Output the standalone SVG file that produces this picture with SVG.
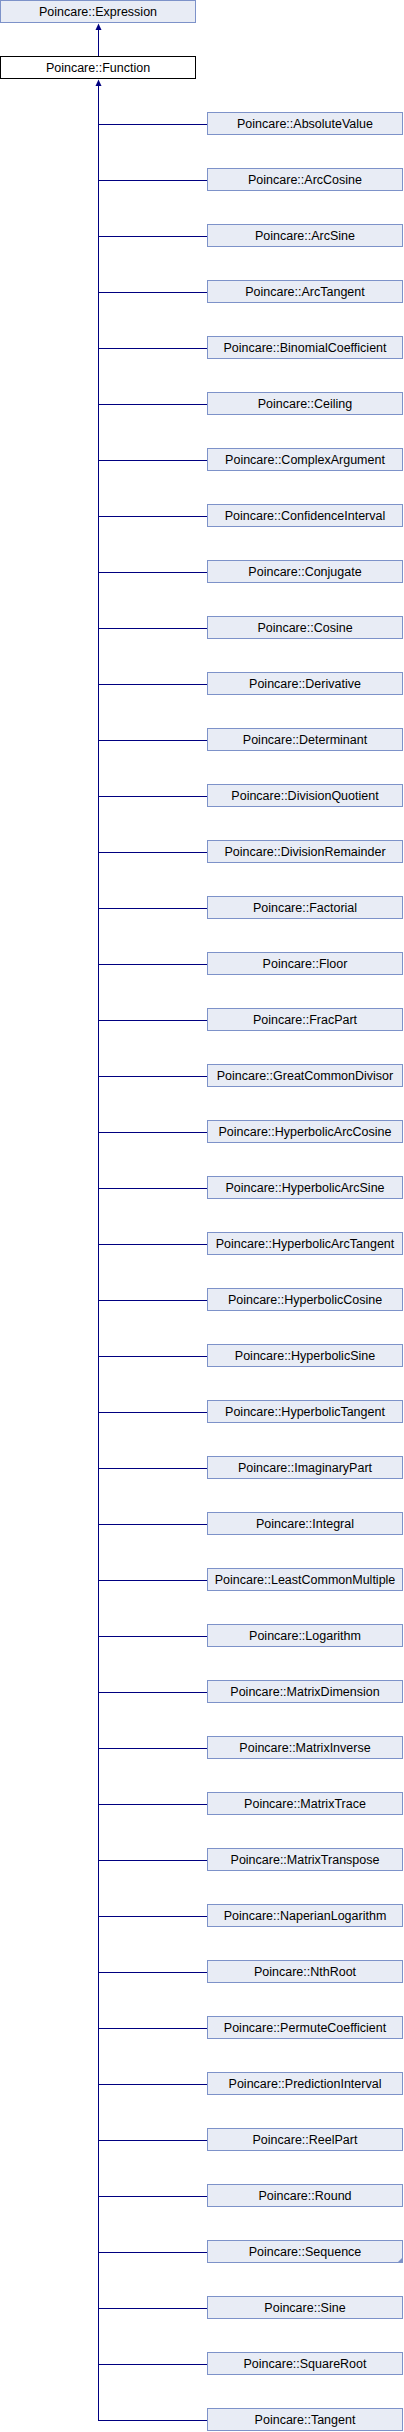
<svg xmlns="http://www.w3.org/2000/svg" width="404" height="2432" viewBox="0 0 404 2432">
<style>
.b{fill:#E8ECF5;stroke:#7D92C9;stroke-width:1}
.f{fill:#FFFFFF;stroke:#000000;stroke-width:1}
.t{font-family:"Liberation Sans",Arial,sans-serif;font-size:12.5px;fill:#000;text-anchor:middle}
.c{stroke:#000080;stroke-width:1;fill:none}
.a{fill:#000080;stroke:none}
</style>
<rect width="404" height="2432" fill="#FFFFFF"/>
<g id="connectors">
<path class="c" d="M98.5,56V29"/>
<polygon class="a" points="98.5,23.5 95.5,30 101.5,30"/>
<path class="c" d="M98.5,2420.5V85"/>
<polygon class="a" points="98.5,79.5 95.5,86 101.5,86"/>
<path class="c" d="M98,124.5H207M98,180.5H207M98,236.5H207M98,292.5H207M98,348.5H207M98,404.5H207M98,460.5H207M98,516.5H207M98,572.5H207M98,628.5H207M98,684.5H207M98,740.5H207M98,796.5H207M98,852.5H207M98,908.5H207M98,964.5H207M98,1020.5H207M98,1076.5H207M98,1132.5H207M98,1188.5H207M98,1244.5H207M98,1300.5H207M98,1356.5H207M98,1412.5H207M98,1468.5H207M98,1524.5H207M98,1580.5H207M98,1636.5H207M98,1692.5H207M98,1748.5H207M98,1804.5H207M98,1860.5H207M98,1916.5H207M98,1972.5H207M98,2028.5H207M98,2084.5H207M98,2140.5H207M98,2196.5H207M98,2252.5H207M98,2308.5H207M98,2364.5H207M98,2420.5H207"/>
</g>
<g id="Expression"><rect class="b" x="0.5" y="0.5" width="195" height="22"/><text class="t" x="98" y="16">Poincare::Expression</text></g>
<g id="Function"><rect class="f" x="0.5" y="56.5" width="195" height="22"/><text class="t" x="98" y="72">Poincare::Function</text></g>
<g id="AbsoluteValue"><rect class="b" x="207.5" y="112.5" width="195" height="22"/><text class="t" x="305" y="128">Poincare::AbsoluteValue</text></g>
<g id="ArcCosine"><rect class="b" x="207.5" y="168.5" width="195" height="22"/><text class="t" x="305" y="184">Poincare::ArcCosine</text></g>
<g id="ArcSine"><rect class="b" x="207.5" y="224.5" width="195" height="22"/><text class="t" x="305" y="240">Poincare::ArcSine</text></g>
<g id="ArcTangent"><rect class="b" x="207.5" y="280.5" width="195" height="22"/><text class="t" x="305" y="296">Poincare::ArcTangent</text></g>
<g id="BinomialCoefficient"><rect class="b" x="207.5" y="336.5" width="195" height="22"/><text class="t" x="305" y="352">Poincare::BinomialCoefficient</text></g>
<g id="Ceiling"><rect class="b" x="207.5" y="392.5" width="195" height="22"/><text class="t" x="305" y="408">Poincare::Ceiling</text></g>
<g id="ComplexArgument"><rect class="b" x="207.5" y="448.5" width="195" height="22"/><text class="t" x="305" y="464">Poincare::ComplexArgument</text></g>
<g id="ConfidenceInterval"><rect class="b" x="207.5" y="504.5" width="195" height="22"/><text class="t" x="305" y="520">Poincare::ConfidenceInterval</text></g>
<g id="Conjugate"><rect class="b" x="207.5" y="560.5" width="195" height="22"/><text class="t" x="305" y="576">Poincare::Conjugate</text></g>
<g id="Cosine"><rect class="b" x="207.5" y="616.5" width="195" height="22"/><text class="t" x="305" y="632">Poincare::Cosine</text></g>
<g id="Derivative"><rect class="b" x="207.5" y="672.5" width="195" height="22"/><text class="t" x="305" y="688">Poincare::Derivative</text></g>
<g id="Determinant"><rect class="b" x="207.5" y="728.5" width="195" height="22"/><text class="t" x="305" y="744">Poincare::Determinant</text></g>
<g id="DivisionQuotient"><rect class="b" x="207.5" y="784.5" width="195" height="22"/><text class="t" x="305" y="800">Poincare::DivisionQuotient</text></g>
<g id="DivisionRemainder"><rect class="b" x="207.5" y="840.5" width="195" height="22"/><text class="t" x="305" y="856">Poincare::DivisionRemainder</text></g>
<g id="Factorial"><rect class="b" x="207.5" y="896.5" width="195" height="22"/><text class="t" x="305" y="912">Poincare::Factorial</text></g>
<g id="Floor"><rect class="b" x="207.5" y="952.5" width="195" height="22"/><text class="t" x="305" y="968">Poincare::Floor</text></g>
<g id="FracPart"><rect class="b" x="207.5" y="1008.5" width="195" height="22"/><text class="t" x="305" y="1024">Poincare::FracPart</text></g>
<g id="GreatCommonDivisor"><rect class="b" x="207.5" y="1064.5" width="195" height="22"/><text class="t" x="305" y="1080">Poincare::GreatCommonDivisor</text></g>
<g id="HyperbolicArcCosine"><rect class="b" x="207.5" y="1120.5" width="195" height="22"/><text class="t" x="305" y="1136">Poincare::HyperbolicArcCosine</text></g>
<g id="HyperbolicArcSine"><rect class="b" x="207.5" y="1176.5" width="195" height="22"/><text class="t" x="305" y="1192">Poincare::HyperbolicArcSine</text></g>
<g id="HyperbolicArcTangent"><rect class="b" x="207.5" y="1232.5" width="195" height="22"/><text class="t" x="305" y="1248">Poincare::HyperbolicArcTangent</text></g>
<g id="HyperbolicCosine"><rect class="b" x="207.5" y="1288.5" width="195" height="22"/><text class="t" x="305" y="1304">Poincare::HyperbolicCosine</text></g>
<g id="HyperbolicSine"><rect class="b" x="207.5" y="1344.5" width="195" height="22"/><text class="t" x="305" y="1360">Poincare::HyperbolicSine</text></g>
<g id="HyperbolicTangent"><rect class="b" x="207.5" y="1400.5" width="195" height="22"/><text class="t" x="305" y="1416">Poincare::HyperbolicTangent</text></g>
<g id="ImaginaryPart"><rect class="b" x="207.5" y="1456.5" width="195" height="22"/><text class="t" x="305" y="1472">Poincare::ImaginaryPart</text></g>
<g id="Integral"><rect class="b" x="207.5" y="1512.5" width="195" height="22"/><text class="t" x="305" y="1528">Poincare::Integral</text></g>
<g id="LeastCommonMultiple"><rect class="b" x="207.5" y="1568.5" width="195" height="22"/><text class="t" x="305" y="1584">Poincare::LeastCommonMultiple</text></g>
<g id="Logarithm"><rect class="b" x="207.5" y="1624.5" width="195" height="22"/><text class="t" x="305" y="1640">Poincare::Logarithm</text></g>
<g id="MatrixDimension"><rect class="b" x="207.5" y="1680.5" width="195" height="22"/><text class="t" x="305" y="1696">Poincare::MatrixDimension</text></g>
<g id="MatrixInverse"><rect class="b" x="207.5" y="1736.5" width="195" height="22"/><text class="t" x="305" y="1752">Poincare::MatrixInverse</text></g>
<g id="MatrixTrace"><rect class="b" x="207.5" y="1792.5" width="195" height="22"/><text class="t" x="305" y="1808">Poincare::MatrixTrace</text></g>
<g id="MatrixTranspose"><rect class="b" x="207.5" y="1848.5" width="195" height="22"/><text class="t" x="305" y="1864">Poincare::MatrixTranspose</text></g>
<g id="NaperianLogarithm"><rect class="b" x="207.5" y="1904.5" width="195" height="22"/><text class="t" x="305" y="1920">Poincare::NaperianLogarithm</text></g>
<g id="NthRoot"><rect class="b" x="207.5" y="1960.5" width="195" height="22"/><text class="t" x="305" y="1976">Poincare::NthRoot</text></g>
<g id="PermuteCoefficient"><rect class="b" x="207.5" y="2016.5" width="195" height="22"/><text class="t" x="305" y="2032">Poincare::PermuteCoefficient</text></g>
<g id="PredictionInterval"><rect class="b" x="207.5" y="2072.5" width="195" height="22"/><text class="t" x="305" y="2088">Poincare::PredictionInterval</text></g>
<g id="ReelPart"><rect class="b" x="207.5" y="2128.5" width="195" height="22"/><text class="t" x="305" y="2144">Poincare::ReelPart</text></g>
<g id="Round"><rect class="b" x="207.5" y="2184.5" width="195" height="22"/><text class="t" x="305" y="2200">Poincare::Round</text></g>
<g id="Sequence"><rect class="b" x="207.5" y="2240.5" width="195" height="22"/><polygon fill="#7D92C9" points="403,2257 403,2263 397,2263"/><text class="t" x="305" y="2256">Poincare::Sequence</text></g>
<g id="Sine"><rect class="b" x="207.5" y="2296.5" width="195" height="22"/><text class="t" x="305" y="2312">Poincare::Sine</text></g>
<g id="SquareRoot"><rect class="b" x="207.5" y="2352.5" width="195" height="22"/><text class="t" x="305" y="2368">Poincare::SquareRoot</text></g>
<g id="Tangent"><rect class="b" x="207.5" y="2408.5" width="195" height="22"/><text class="t" x="305" y="2424">Poincare::Tangent</text></g>
</svg>
